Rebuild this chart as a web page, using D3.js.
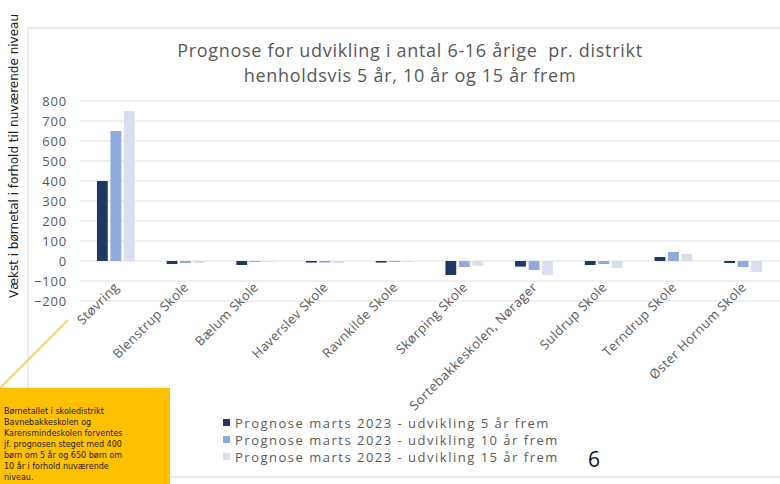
<!DOCTYPE html>
<html>
<head>
<meta charset="utf-8">
<script src="https://cdn.jsdelivr.net/npm/d3@7"></script>
<style>
  body { margin: 0; background: #fff; }
  svg { display: block; }
</style>
</head>
<body>
<svg id="chart" width="780" height="484"></svg>
<script>
// prognose data
var districts = ["Støvring", "Blenstrup Skole", "Bælum Skole", "Haverslev Skole", "Ravnkilde Skole",
  "Skørping Skole", "Sortebakkeskolen, Nørager", "Suldrup Skole", "Terndrup Skole", "Øster Hornum Skole"];
var seriesNames = ["Prognose marts 2023 - udvikling 5 år frem",
  "Prognose marts 2023 - udvikling 10 år frem",
  "Prognose marts 2023 - udvikling 15 år frem"];
var years5 = [400, -15, -20, -8, -8, -70, -28, -20, 20, -10];
var years10 = [650, -10, -5, -8, -5, -30, -45, -15, 45, -30];
var years15 = [750, -10, -5, -10, -5, -25, -70, -35, 35, -55];
var yTicks = [-200, -100, 0, 100, 200, 300, 400, 500, 600, 700, 800];
var colors = ["#1f3864", "#8faadc", "#dadfef"];

var svg = d3.select("#chart");
var allSeries = [years5, years10, years15];

// ramme
svg.append("line").attr("x1", 28).attr("x2", 780).attr("y1", 28).attr("y2", 28)
    .attr("stroke", "#ececec").attr("stroke-width", 2);
svg.append("line").attr("x1", 28).attr("x2", 28).attr("y1", 28).attr("y2", 484)
    .attr("stroke", "#ececec").attr("stroke-width", 2);
svg.append("line").attr("x1", 170).attr("x2", 780).attr("y1", 477).attr("y2", 477)
    .attr("stroke", "#ececec").attr("stroke-width", 2);

var y = d3.scaleLinear().domain([-200, 800]).range([301, 101]);
var x0 = d3.scaleBand().domain(districts).range([81, 778]).paddingInner(0.38).paddingOuter(0.19);
var x1 = d3.scaleBand().domain([0, 1, 2]).range([0, x0.bandwidth()]).padding(0.2);

// gridlines
svg.append("g").selectAll("line").data(yTicks).enter().append("line")
    .attr("x1", 80).attr("x2", 780)
    .attr("y1", function(d) { return y(d); })
    .attr("y2", function(d) { return y(d); })
    .attr("stroke", "#e2e2e2").attr("stroke-width", 1.2);

var yAxis = svg.append("g").attr("transform", "translate(71,0)")
    .call(d3.axisLeft(y).tickValues(yTicks).tickSize(0).tickPadding(4));
yAxis.select(".domain").remove();
yAxis.selectAll("text").attr("fill", "#5a5a5a").style("font-family", "Open Sans, sans-serif")
    .style("font-size", "13px").style("letter-spacing", "0.8px");

// bars
var groups = svg.append("g").selectAll("g").data(districts).enter().append("g")
    .attr("transform", function(d) { return "translate(" + x0(d) + ",0)"; });
groups.selectAll("rect").data(function(d, i) {
    return allSeries.map(function(s, k) { return { k: k, v: s[i] }; });
  }).enter().append("rect")
    .attr("x", function(d) { return x1(d.k); })
    .attr("width", x1.bandwidth())
    .attr("y", function(d) { return y(Math.max(0, d.v)); })
    .attr("height", function(d) { return Math.abs(y(d.v) - y(0)); })
    .attr("fill", function(d) { return colors[d.k]; });

// x labels
svg.append("g").selectAll("text").data(districts).enter().append("text")
    .attr("transform", function(d) {
      return "translate(" + (x0(d) + x0.bandwidth() / 2 + 4) + ",288) rotate(-45)";
    })
    .attr("text-anchor", "end")
    .attr("fill", "#5a5a5a")
    .style("font-family", "Open Sans, sans-serif").style("font-size", "13px")
    .style("letter-spacing", "0.4px")
    .text(function(d) { return d; });

// titel
var titleLines = ["Prognose for udvikling i antal 6-16 årige  pr. distrikt", "henholdsvis 5 år, 10 år og 15 år frem"];
svg.append("g").selectAll("text").data(titleLines).enter().append("text")
    .attr("x", 410).attr("y", function(d, i) { return 57 + i * 25; }).attr("text-anchor", "middle")
    .attr("fill", "#595959").style("font-family", "Open Sans, sans-serif").style("font-size", "18px")
    .style("letter-spacing", "0.7px").style("white-space", "pre")
    .text(function(d) { return d; });

// y-akse titel
svg.append("text").attr("transform", "translate(18,156) rotate(-90)").attr("text-anchor", "middle")
    .attr("fill", "#222").style("font-family", "DejaVu Sans, sans-serif").style("font-size", "12px")
    .text("Vækst i børnetal i forhold til nuværende niveau");

// legend
var legend = svg.append("g").selectAll("g").data(seriesNames).enter().append("g")
    .attr("transform", function(d, i) { return "translate(223," + (424 + i * 17) + ")"; });
legend.append("rect").attr("x", 0).attr("y", -5).attr("width", 7).attr("height", 7)
    .attr("fill", function(d, i) { return colors[i]; });
legend.append("text").attr("x", 12).attr("y", 3.5)
    .attr("fill", "#5a5a5a").style("font-family", "Open Sans, sans-serif").style("font-size", "13px")
    .style("letter-spacing", "1.5px")
    .text(function(d) { return d; });

svg.append("text").attr("x", 588).attr("y", 467).attr("fill", "#111")
    .style("font-family", "Open Sans, sans-serif").style("font-size", "21px").text("6");

// gul note
svg.append("line").attr("x1", 0).attr("y1", 388).attr("x2", 68).attr("y2", 320)
    .attr("stroke", "#f2c12e").attr("stroke-width", 1.5);
svg.append("rect").attr("x", 0).attr("y", 388).attr("width", 170).attr("height", 96).attr("fill", "#ffc000");
var noteLines = ["Børnetallet i skoledistrikt", "Bavnebakkeskolen og", "Karensmindeskolen forventes",
  "jf. prognosen steget med 400", "børn om 5 år og 650 børn om", "10 år i forhold nuværende", "niveau."];
svg.append("g").selectAll("text").data(noteLines).enter().append("text")
    .attr("x", 4).attr("y", function(d, i) { return 414 + i * 11; })
    .attr("fill", "#1a1a1a").style("font-family", "DejaVu Sans, sans-serif").style("font-size", "8px")
    .text(function(d) { return d; });
</script>
</body>
</html>
